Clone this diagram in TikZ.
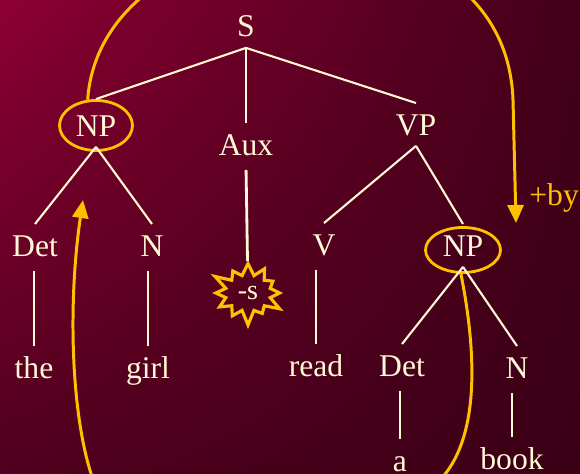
\documentclass[tikz,border=0pt]{standalone}
\usepackage{fontspec}
\setmainfont{Liberation Serif}
\usepackage{xcolor}
\definecolor{bgTopLeft}{RGB}{140,0,50}
\definecolor{bgTopRight}{RGB}{66,0,25}
\definecolor{bgBotLeft}{RGB}{80,0,30}
\definecolor{bgBotRight}{RGB}{58,0,22}
\definecolor{treeInk}{RGB}{255,248,212}
\definecolor{moveGold}{RGB}{255,192,0}
\usepackage{tikz}
\usetikzlibrary{arrows.meta,shapes.geometric,shapes.symbols,shadings}
\tikzstyle{word}=[text=treeInk, font=\fontsize{18}{20}\selectfont, inner xsep=0pt, inner ysep=6pt, text height=12pt, text depth=0pt, anchor=base]
\tikzstyle{branch}=[draw=treeInk, line width=1.2pt]
\tikzstyle{stem}=[draw=treeInk, line width=1.6pt, shorten <=0.08cm]
\tikzstyle{ring}=[draw=moveGold, ellipse, line width=1.6pt, inner sep=0pt]
\tikzstyle{burst}=[starburst, starburst points=12, starburst point height=0.32cm, draw=moveGold, line width=1.8pt, text=treeInk, font=\fontsize{16}{18}\selectfont, inner sep=1pt, minimum width=1.56cm, minimum height=1.36cm]
\tikzstyle{move}=[draw=moveGold, line width=1.7pt, -{Triangle[length=0.36cm, width=0.32cm]}]

\begin{document}
\begin{tikzpicture}[x=0.02cm, y=-0.02cm]
  \shade[upper left=bgTopLeft, upper right=bgTopRight, lower left=bgBotLeft, lower right=bgBotRight]
    (0,0) rectangle (580,473);
  \useasboundingbox (0,0) rectangle (580,473);

  \node[word] (S) at (246,37) {S};
  \node[word] (NPa) at (96,136) {NP};
  \node[word] (Aux) at (246,155) {Aux};
  \node[word] (VP) at (416,135) {VP};
  \node[word] (DetA) at (35,256) {Det};
  \node[word] (NA) at (152,256) {N};
  \node[word] (V) at (324,255) {V};
  \node[word] (NPb) at (463,256) {NP};
  \node[word] (the) at (34,378) {the};
  \node[word] (girl) at (148,378) {girl};
  \node[word] (read) at (316,376) {read};
  \node[word] (DetB) at (402,376) {Det};
  \node[word] (NB) at (517,378) {N};
  \node[word] (a) at (400,471) {a};
  \node[word] (book) at (512,469) {book};
  \node[burst] (suffix) at (248,293) {-s};
  \node[word, text=moveGold, anchor=base west] (by) at (529,205) {+by};

  \node[ring, minimum width=1.46cm, minimum height=1cm] (ringA) at (NPa) {};
  \node[ring, minimum width=1.5cm, minimum height=0.9cm] (ringB) at ([yshift=-0.09cm]NPb.center) {};

  \draw[branch] (S.south) -- (ringA.north);
  \draw[branch] (S.south) -- (Aux.north);
  \draw[branch] (S.south) -- (VP.north);
  \draw[branch] (NPa.south) -- (DetA.north);
  \draw[branch] (NPa.south) -- (NA.north);
  \draw[branch] (VP.south) -- (V.north);
  \draw[branch] (VP.south) -- (NPb.north);
  \draw[branch] (NPb.south) -- (DetB.north);
  \draw[branch] (NPb.south) -- (NB.north);

  \draw[stem] (DetA.south -| the.north) -- (the.north);
  \draw[stem] (NA.south -| girl.north) -- (girl.north);
  \draw[stem] (Aux.south) -- (suffix);
  \draw[stem] (V.south -| read.north) -- (read.north);
  \draw[stem] (DetB.south -| a.north) -- (a.north);
  \draw[stem] (NB.south -| book.north) -- (book.north);

  \coordinate (byEnd) at (516,223);
  \coordinate (npEnd) at (83,200);
  \begin{scope}
    \clip (0,0) rectangle (580,473);
    \draw[move] (ringA.108) .. controls (102,-100) and (505,-125) .. (513,100) -- (byEnd);
    \draw[move] (ringB.265) .. controls (478,360) and (478,440) .. (440,480)
      .. controls (400,520) and (120,550) .. (95,485)
      .. controls (70,420) and (68,300) .. (npEnd);
  \end{scope}
\end{tikzpicture}
\end{document}
